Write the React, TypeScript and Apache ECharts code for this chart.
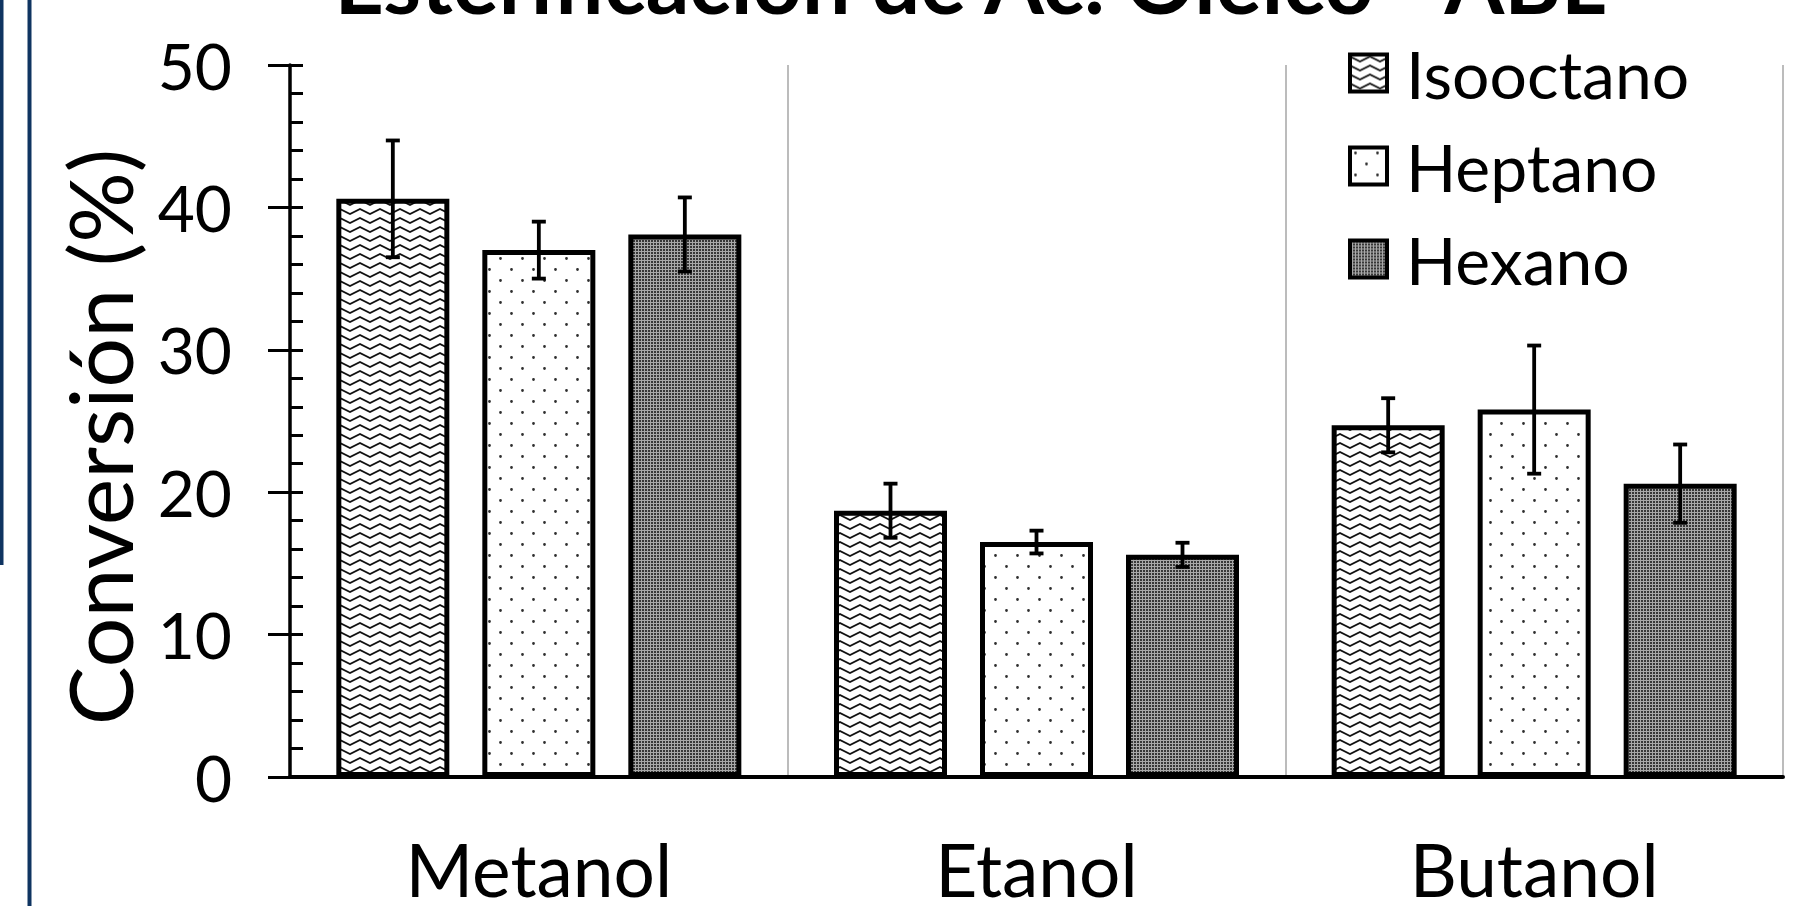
import React, { useEffect, useRef } from 'react';
import * as echarts from 'echarts';

const titleText = 'Esterificación de Ac. Oleico - ABL';
const yAxisName = 'Conversión (%)';
const categories = ['Metanol', 'Etanol', 'Butanol'];
const seriesNames = ['Isooctano', 'Heptano', 'Hexano'];
const isooctano = [40.6, 18.7, 24.7];
const heptano = [37.0, 16.5, 25.8];
const hexano = [38.1, 15.6, 20.6];
const isooctanoErr = [4.1, 1.9, 1.9];
const heptanoErr = [2.0, 0.8, 4.5];
const hexanoErr = [2.6, 0.85, 2.75];
const yMin = 0;
const yMax = 50;
const yStep = 10;

const BAR_W = 113;
const BAR_SPACE = 33;
const FONT = 'Lato, "Open Sans", "Noto Sans", sans-serif';

function makeZigzag(): HTMLCanvasElement {
  const c = document.createElement('canvas');
  c.width = 20;
  c.height = 9;
  const g = c.getContext('2d')!;
  g.fillStyle = '#ffffff';
  g.fillRect(0, 0, 20, 9);
  g.strokeStyle = '#111111';
  g.lineWidth = 1.9;
  g.beginPath();
  g.moveTo(-10, 7);
  g.lineTo(0, 2);
  g.lineTo(10, 7);
  g.lineTo(20, 2);
  g.lineTo(30, 7);
  g.stroke();
  return c;
}

function makeDots(): HTMLCanvasElement {
  const c = document.createElement('canvas');
  c.width = 22;
  c.height = 22;
  const g = c.getContext('2d')!;
  g.fillStyle = '#ffffff';
  g.fillRect(0, 0, 22, 22);
  g.fillStyle = '#2e2e2e';
  g.beginPath();
  g.arc(5.5, 5.5, 1.4, 0, Math.PI * 2);
  g.arc(16.5, 16.5, 1.4, 0, Math.PI * 2);
  g.fill();
  return c;
}

function makeChecker(): HTMLCanvasElement {
  const c = document.createElement('canvas');
  c.width = 3;
  c.height = 3;
  const g = c.getContext('2d')!;
  g.fillStyle = '#a8a8a8';
  g.fillRect(0, 0, 3, 3);
  g.fillStyle = '#383838';
  g.fillRect(0, 0, 2, 2);
  return c;
}

export default function App() {
  const ref = useRef<HTMLDivElement>(null);

  useEffect(() => {
    if (!ref.current) return;
    const chart = echarts.init(ref.current, undefined, { renderer: 'svg' });

    const patterns = [makeZigzag(), makeDots(), makeChecker()];
    const values = [isooctano, heptano, hexano];
    const errs = [isooctanoErr, heptanoErr, hexanoErr];

    const barSeries = seriesNames.map((name, i) => ({
      name,
      type: 'bar',
      data: values[i],
      barWidth: BAR_W,
      barGap: `${(BAR_SPACE / BAR_W) * 100}%`,
      itemStyle: {
        color: { image: patterns[i], repeat: 'repeat' },
        borderColor: '#000',
        borderWidth: 5,
      },
      z: 2,
    }));

    const errSeries = seriesNames.map((name, i) => {
      const offset = (i - 1) * (BAR_W + BAR_SPACE);
      return {
        name: name + ' error',
        type: 'custom',
        z: 5,
        data: values[i].map((v, ci) => [ci, v - errs[i][ci], v + errs[i][ci]]),
        encode: { x: 0, y: [1, 2] },
        renderItem: (params: any, api: any) => {
          const ci = api.value(0);
          const lo = api.coord([ci, api.value(1)]);
          const hi = api.coord([ci, api.value(2)]);
          const x = lo[0] + offset;
          const st = { stroke: '#000', lineWidth: 3.8 };
          return {
            type: 'group',
            children: [
              { type: 'line', shape: { x1: x, y1: hi[1], x2: x, y2: lo[1] }, style: st },
              { type: 'line', shape: { x1: x - 7, y1: hi[1], x2: x + 7, y2: hi[1] }, style: st },
              { type: 'line', shape: { x1: x - 7, y1: lo[1], x2: x + 7, y2: lo[1] }, style: st },
            ],
          };
        },
      };
    });

    chart.setOption({
      animation: false,
      backgroundColor: '#ffffff',
      textStyle: { fontFamily: FONT },
      grid: { left: 290, right: 33, top: 65, bottom: 129, containLabel: false },
      legend: {
        data: seriesNames,
        orient: 'vertical',
        left: 1343,
        top: 35,
        itemWidth: 37,
        itemHeight: 37,
        itemGap: 27,
        icon: 'rect',
        itemStyle: { borderColor: '#000', borderWidth: 4 },
        textStyle: { fontSize: 66, color: '#000', fontFamily: FONT, padding: [0, 0, 0, 14] },
      },
      xAxis: {
        type: 'category',
        data: categories,
        axisLine: { show: true, lineStyle: { color: '#000', width: 4 } },
        axisTick: { show: false },
        axisLabel: { fontSize: 73, lineHeight: 56, color: '#000', margin: 64, fontFamily: FONT },
        splitLine: { show: true, lineStyle: { color: '#a6a6a6', width: 1.5 } },
      },
      yAxis: [
        {
          type: 'value',
          position: 'left',
          min: yMin,
          max: yMax,
          interval: yStep,
          name: yAxisName,
          nameLocation: 'middle',
          nameGap: 147,
          nameTextStyle: { fontSize: 88, color: '#000', fontFamily: FONT, padding: [0, 32, 0, 0] },
          axisLine: { show: true, lineStyle: { color: '#000', width: 3.5 } },
          axisTick: { show: true, inside: false, length: 22, lineStyle: { color: '#000', width: 3 } },
          axisLabel: { fontSize: 64, color: '#000', margin: 58, fontFamily: FONT },
          splitLine: { show: false },
        },
        {
          type: 'value',
          position: 'left',
          min: yMin,
          max: yMax,
          interval: yStep,
          axisLine: { show: false },
          axisTick: { show: true, inside: true, length: 13, lineStyle: { color: '#000', width: 3 } },
          minorTick: { show: true, splitNumber: 5, length: 13, lineStyle: { color: '#000', width: 3 } },
          axisLabel: { show: false },
          splitLine: { show: false },
        },
      ],
      graphic: [
        { type: 'rect', left: 0, top: 0, shape: { x: 0, y: 0, width: 3.5, height: 565 }, style: { fill: '#0f3461' } },
        { type: 'rect', left: 27.5, top: 0, shape: { x: 0, y: 0, width: 4, height: 906 }, style: { fill: '#0f3461' } },
        {
          type: 'text',
          x: 970,
          y: -20,
          style: {
            text: titleText,
            fontSize: 86,
            fontWeight: 'bold',
            fontFamily: FONT,
            fill: '#000',
            align: 'center',
            verticalAlign: 'middle',
          },
        },
      ],
      series: [...barSeries, ...errSeries],
    });

    return () => chart.dispose();
  }, []);

  return (
    <div
      ref={ref}
      style={{ position: 'fixed', left: 0, top: 0, width: '1816px', height: '906px' }}
    />
  );
}
